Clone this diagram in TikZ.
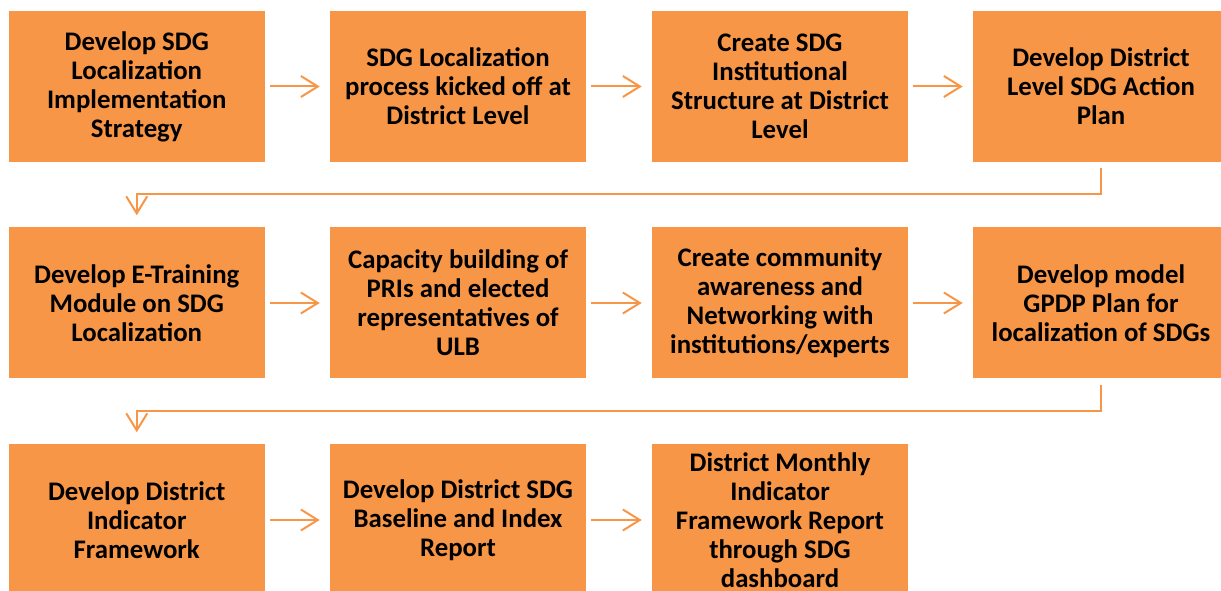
\documentclass[tikz,border=0pt]{standalone}
\usepackage{fontspec}
\setmainfont{Carlito}
\usetikzlibrary{arrows.meta}
\definecolor{boxorange}{HTML}{F79646}
\begin{document}
\begin{tikzpicture}[x=0.75pt,y=-0.75pt,
  stepbox/.style={fill=boxorange,draw=none,minimum width=192pt,minimum height=113.25pt,
    inner sep=0pt,align=center,font=\fontsize{20.1}{21.75}\selectfont\bfseries,text=black},
  flow/.style={draw=boxorange,line width=1.5pt,-{Straight Barb[length=12.75pt,width=15.75pt,line width=1.5pt]},
    shorten <=3.75pt,shorten >=7.5pt},
  rowlink/.style={draw=boxorange,line width=1.5pt,-{Straight Barb[length=12.75pt,width=15.75pt,line width=1.5pt]},
    shorten <=4.5pt,shorten >=9pt}]
\useasboundingbox (0,0) rectangle (1221,591);
\begin{scope}
\clip (0,0) rectangle (1221,591);
\node[stepbox] (b1) at (136.75,86.5) {Develop SDG\\Localization\\Implementation\\Strategy};
\node[stepbox] (b2) at (458,86.5) {SDG Localization\\process kicked off at\\District Level};
\node[stepbox] (b3) at (780,86.5) {Create SDG\\Institutional\\Structure at District\\Level};
\node[stepbox] (b4) at (1101,86.5) {Develop District\\Level SDG Action\\Plan};
\node[stepbox] (b5) at (136.75,303) {Develop E-Training\\Module on SDG\\Localization};
\node[stepbox] (b6) at (458,303) {Capacity building of\\PRIs and elected\\representatives of\\ULB};
\node[stepbox] (b7) at (780,303) {Create community\\awareness and\\Networking with\\institutions/experts};
\node[stepbox] (b8) at (1101,303) {Develop model\\GPDP Plan for\\localization of SDGs};
\node[stepbox] (b9) at (136.75,520) {Develop District\\Indicator\\Framework};
\node[stepbox] (b10) at (458,520) {Develop District SDG\\Baseline and Index\\Report};
\node[stepbox] (b11) at (780,520) {District Monthly\\Indicator\\Framework Report\\through SDG\\dashboard};
\end{scope}
\draw[flow] (b1) -- (b2);
\draw[flow] (b2) -- (b3);
\draw[flow] (b3) -- (b4);
\draw[rowlink] (b4.south) |- (136.75,194) -- (b5.north);
\draw[flow] (b5) -- (b6);
\draw[flow] (b6) -- (b7);
\draw[flow] (b7) -- (b8);
\draw[rowlink] (b8.south) |- (136.75,411) -- (b9.north);
\draw[flow] (b9) -- (b10);
\draw[flow] (b10) -- (b11);
\end{tikzpicture}
\end{document}
